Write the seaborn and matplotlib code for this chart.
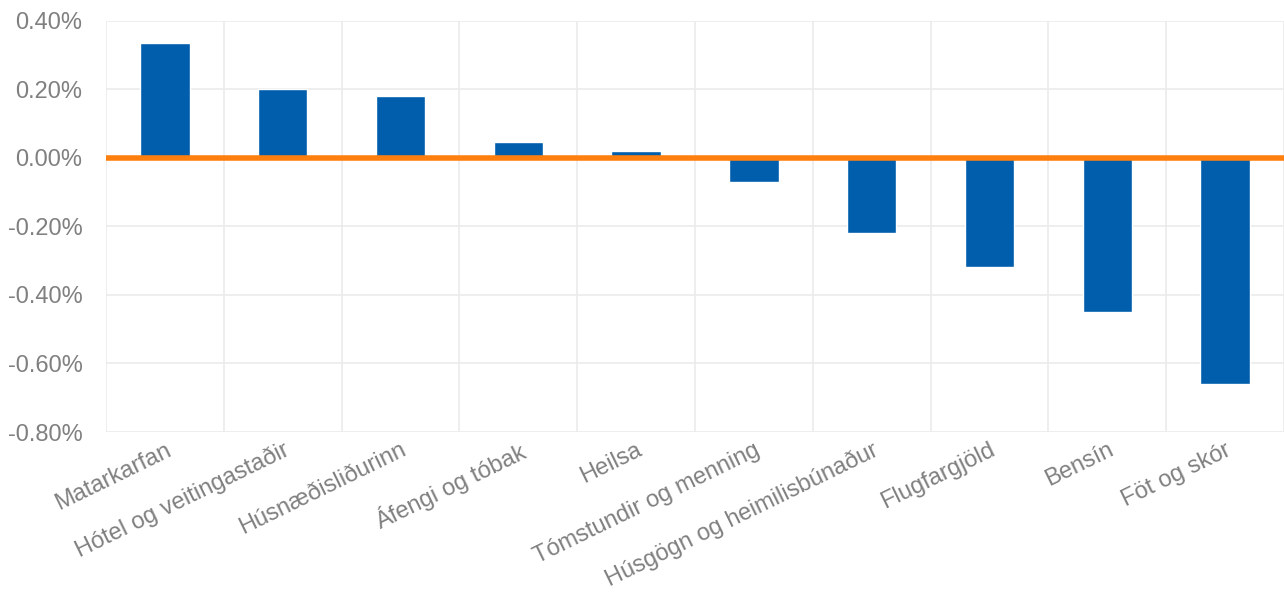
import matplotlib.pyplot as plt
import numpy as np
import pandas as pd
import seaborn as sns
from matplotlib.ticker import FixedLocator, FuncFormatter

categories = [
    "Matarkarfan", "Hótel og veitingastaðir", "Húsnæðisliðurinn", "Áfengi og tóbak",
    "Heilsa", "Tómstundir og menning", "Húsgögn og heimilisbúnaður",
    "Flugfargjöld", "Bensín", "Föt og skór",
]
values = [0.335, 0.20, 0.18, 0.045, 0.02, -0.07, -0.22, -0.32, -0.45, -0.66]
y_ticks = [0.4, 0.2, 0.0, -0.2, -0.4, -0.6, -0.8]

BAR = "#005EAC"
ORANGE = "#FF7F0E"
GRID = "#EBEBEB"
TXT = "#808080"

sns.set_theme(style="white")
plt.rcParams["font.family"] = ["Liberation Sans", "DejaVu Sans"]

df = pd.DataFrame({"flokkur": categories, "breyting": values})

fig = plt.figure(figsize=(12.84, 5.97), dpi=100)
ax = fig.add_axes([106 / 1284, 1 - 432 / 597, (1284 - 106) / 1284, (432 - 20.5) / 597])

sns.barplot(data=df, x="flokkur", y="breyting", color=BAR, width=0.42,
            saturation=1, ax=ax, zorder=2)
ax.axhline(0, color=ORANGE, lw=4, zorder=3)

ax.set_xlim(-0.5, len(categories) - 0.5)
ax.set_ylim(-0.8, 0.4)
ax.set_yticks(y_ticks)
ax.yaxis.set_major_formatter(FuncFormatter(lambda v, _: f"{v:.2f}%"))
ax.xaxis.set_minor_locator(FixedLocator(np.arange(-0.5, len(categories), 1.0)))
ax.grid(axis="y", which="major", color=GRID, lw=1.2, zorder=0)
ax.grid(axis="x", which="minor", color=GRID, lw=1.2, zorder=0)
ax.set_axisbelow(True)

for s in ax.spines.values():
    s.set_visible(False)
ax.tick_params(axis="both", which="both", length=0, colors=TXT, labelsize=17)
ax.tick_params(axis="y", pad=17)
plt.setp(ax.get_xticklabels(), rotation=26, ha="right", rotation_mode="anchor")
ax.tick_params(axis="x", pad=5)
ax.set_xlabel("")
ax.set_ylabel("")

fig.savefig("out.png", dpi=100)
